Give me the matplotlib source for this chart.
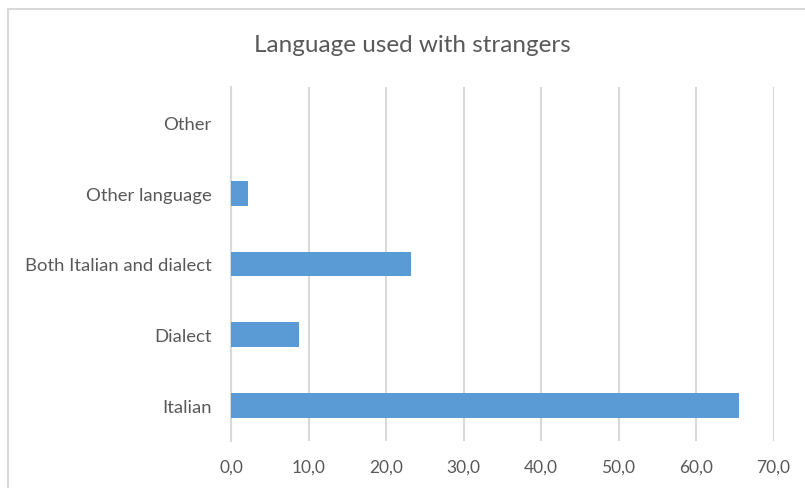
import matplotlib
matplotlib.use("Agg")
import matplotlib.pyplot as plt
from matplotlib.patches import Rectangle
from matplotlib.ticker import FuncFormatter

categories = ["Italian", "Dialect", "Both Italian and dialect", "Other language", "Other"]
values = [65.6, 8.8, 23.2, 2.2, 0.0]
x_ticks = [0, 10, 20, 30, 40, 50, 60, 70]

BAR_COLOR = "#5b9bd5"
GRID_COLOR = "#d9d9d9"
TEXT_COLOR = "#595959"

plt.rcParams["font.family"] = ["Lato", "DejaVu Sans"]

fig = plt.figure(figsize=(8.05, 4.89), dpi=100)
fig.patch.set_facecolor("white")

# chart border (cut off on right and bottom like the screenshot)
fig.patches.append(Rectangle((8 / 805, -0.1), 1.0, 1.1 - 9.5 / 489,
                             transform=fig.transFigure, fill=False,
                             edgecolor="#d9d9d9", linewidth=1.5))

ax = fig.add_axes([231 / 805, 1 - 442 / 489, (773.5 - 231) / 805, (442 - 88) / 489])
ypos = range(len(categories))
ax.barh(ypos, values, height=0.35, color=BAR_COLOR, zorder=3)

ax.set_xlim(0, 70)
ax.set_ylim(-0.5, len(categories) - 0.5)
ax.set_xticks(x_ticks)
ax.xaxis.set_major_formatter(FuncFormatter(lambda v, p: f"{v:.1f}".replace(".", ",")))
ax.set_yticks(list(ypos))
ax.set_yticklabels(categories)

ax.grid(axis="x", color=GRID_COLOR, linewidth=1.5, zorder=0)
ax.set_axisbelow(True)
for s in ["top", "right", "bottom"]:
    ax.spines[s].set_visible(False)
ax.spines["left"].set_color(GRID_COLOR)
ax.spines["left"].set_linewidth(1.5)
ax.tick_params(axis="both", length=0, colors=TEXT_COLOR)
ax.tick_params(axis="y", pad=14, labelsize=13.3)
ax.tick_params(axis="x", pad=13, labelsize=12.5)

fig.text(412 / 805, 1 - 46 / 489, "Language used with strangers",
         ha="center", va="center", fontsize=17.5, color=TEXT_COLOR)

fig.savefig("out.png", dpi=100, facecolor="white")
